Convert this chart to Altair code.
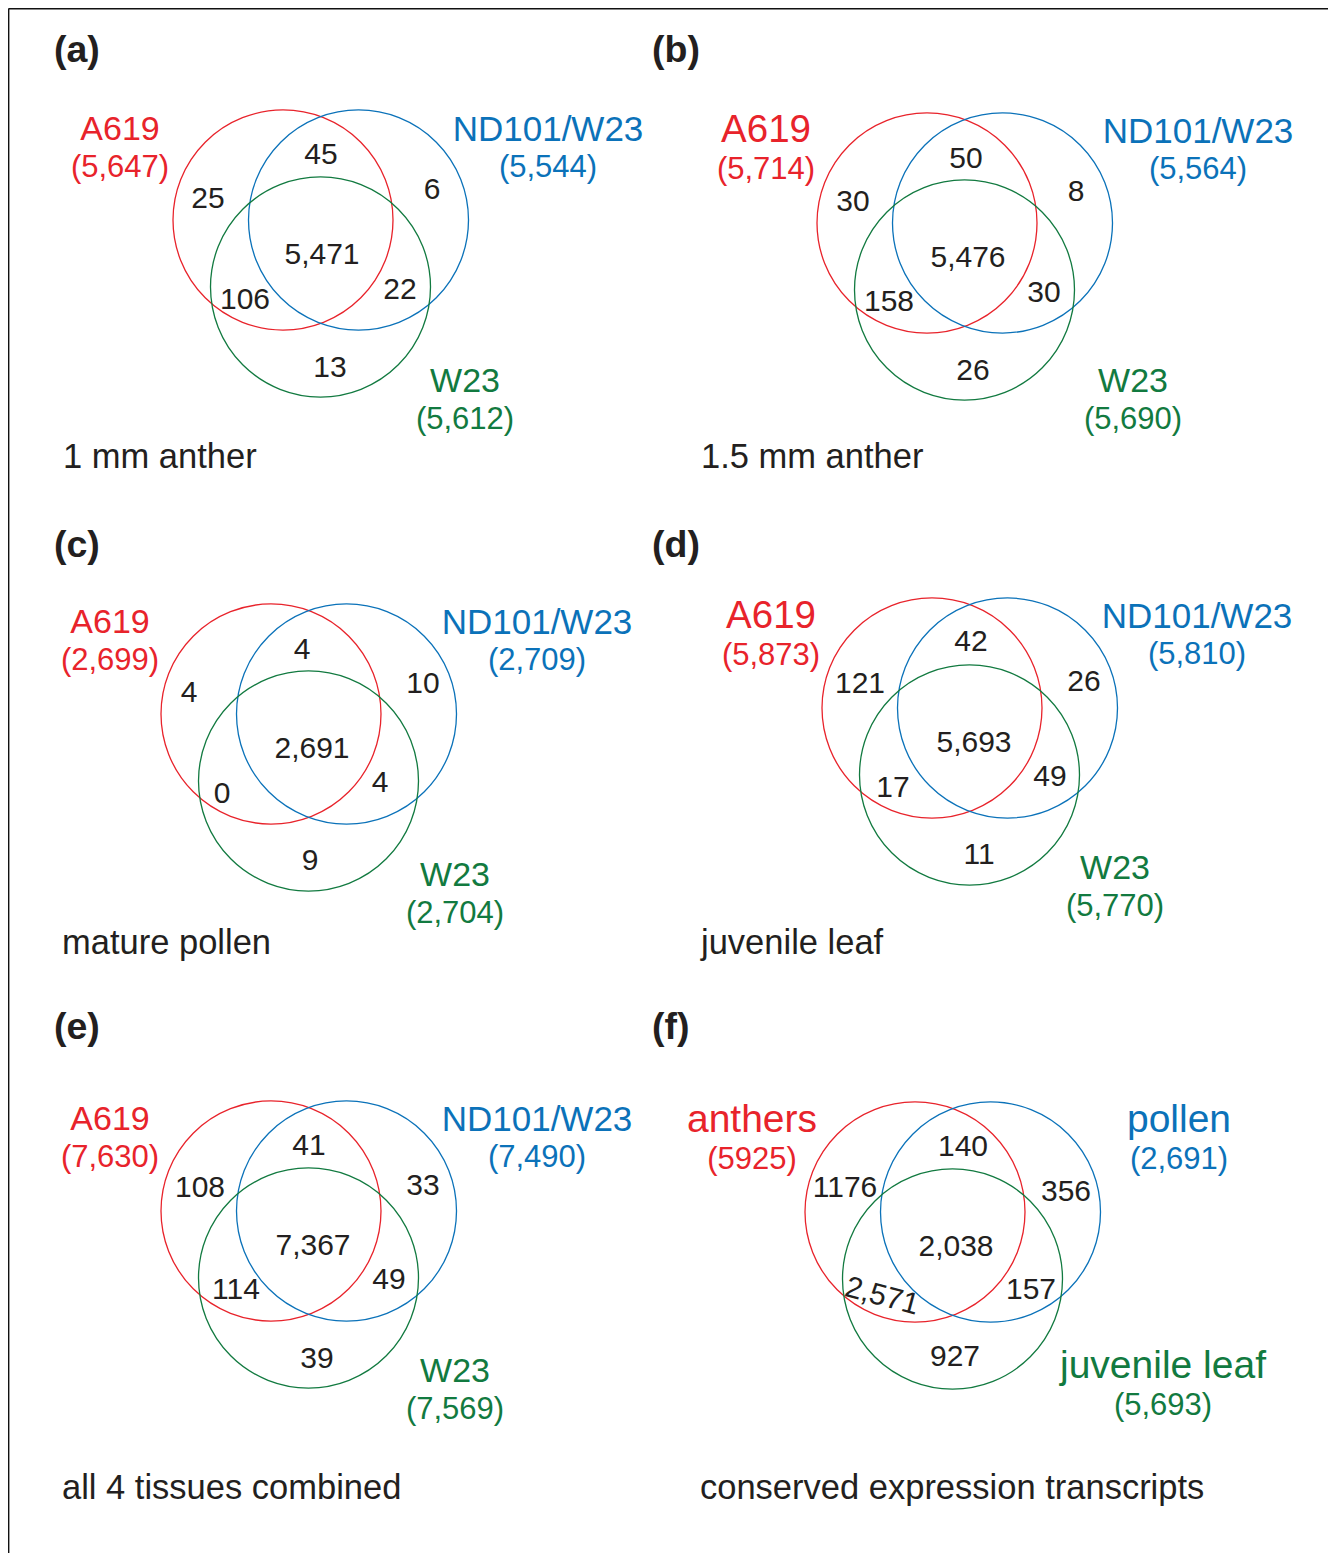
import altair as alt
import pandas as pd

# ---------------- data ----------------
panel_ids = ["a", "b", "c", "d", "e", "f"]
panel_tags = ["(a)", "(b)", "(c)", "(d)", "(e)", "(f)"]
captions = ["1 mm anther", "1.5 mm anther", "mature pollen", "juvenile leaf",
            "all 4 tissues combined", "conserved expression transcripts"]
set_names = [
    ["A619", "ND101/W23", "W23"],
    ["A619", "ND101/W23", "W23"],
    ["A619", "ND101/W23", "W23"],
    ["A619", "ND101/W23", "W23"],
    ["A619", "ND101/W23", "W23"],
    ["anthers", "pollen", "juvenile leaf"],
]
set_totals = [
    [5647, 5544, 5612],
    [5714, 5564, 5690],
    [2699, 2709, 2704],
    [5873, 5810, 5770],
    [7630, 7490, 7569],
    [5925, 2691, 5693],
]
# region order: first only, first+second, second only, all three,
#               first+third, second+third, third only
region_counts = [
    [25, 45, 6, 5471, 106, 22, 13],
    [30, 50, 8, 5476, 158, 30, 26],
    [4, 4, 10, 2691, 0, 4, 9],
    [121, 42, 26, 5693, 17, 49, 11],
    [108, 41, 33, 7367, 114, 49, 39],
    [1176, 140, 356, 2038, 2571, 157, 927],
]

# ---------------- layout / style ----------------
W, H = 1320, 1545
X0, Y0 = 8, 8
RED, BLUE, GREEN = "#e8232b", "#0b72b9", "#127a40"
TEXT = "#231f20"
FONT = "Liberation Sans"
set_colors = [RED, BLUE, GREEN]
TDY = 1.5  # small vertical text nudge

anchor = {"a": (283, 220), "b": (927, 223), "c": (271, 714),
          "d": (932, 708), "e": (271, 1211), "f": (915, 1212)}
circle_off = [(0, 0), (75.5, 0), (37.5, 67)]
R = 110
region_off = {
    "a": [(-75, -23), (38, -67), (149, -32), (39, 33), (-38, 78), (117, 68), (47, 146)],
    "b": [(-74, -23), (39, -66), (149, -33), (41, 33), (-38, 77), (117, 68), (46, 146)],
    "c": [(-82, -23), (31, -66), (152, -32), (41, 33), (-49, 78), (109, 67), (39, 145)],
    "d": [(-72, -26), (39, -68), (152, -28), (42, 33), (-39, 78), (118, 67), (47, 145)],
    "e": [(-71, -25), (38, -67), (152, -27), (42, 33), (-35, 77), (118, 67), (46, 146)],
    "f": [(-70, -26), (48, -67), (151, -22), (41, 33), (-33, 83), (116, 76), (40, 143)],
}
name_off = {
    "a": [(-163, -92), (265, -92), (182, 160)],
    "b": [(-161, -95), (271, -93), (206, 157)],
    "c": [(-161, -93), (266, -93), (184, 160)],
    "d": [(-161, -94), (265, -93), (183, 159)],
    "e": [(-161, -93), (266, -93), (184, 159)],
    "f": [(-163, -94), (264, -94), (248, 152)],
}
name_size = {"a": [34, 35, 34], "b": [38.5, 35, 34], "c": [34, 35, 34],
             "d": [38.5, 35, 34], "e": [34, 35, 34], "f": [39, 39, 39]}
no_comma = {("f", "total", 0), ("f", "region", 0)}
rotated = {("f", 4): 15}
caption_pos = {"a": (63, 458), "b": (701, 458), "c": (62, 944),
               "d": (701, 944), "e": (62, 1489), "f": (700, 1489)}
tag_pos = {"a": (54, 51), "b": (652, 51), "c": (54, 546),
           "d": (652, 546), "e": (54, 1028), "f": (652, 1028)}


def fmt(v, key):
    return str(v) if key in no_comma else f"{v:,}"


circles, regions, names, totals, caps, tags = [], [], [], [], [], []
for i, p in enumerate(panel_ids):
    ax, ay = anchor[p]
    for k in range(3):
        dx, dy = circle_off[k]
        circles.append({"x": ax + dx, "y": ay + dy, "col": set_colors[k],
                        "size": (2 * R) ** 2, "id": f"{p}{k}"})
        nx, ny = name_off[p][k]
        fs = name_size[p][k]
        names.append({"x": ax + nx, "y": ay + ny + TDY, "col": set_colors[k],
                      "fs": fs, "t": set_names[i][k]})
        totals.append({"x": ax + nx, "y": ay + ny + TDY + (40 if fs > 36 else 38),
                       "col": set_colors[k],
                       "t": "(" + fmt(set_totals[i][k], (p, "total", k)) + ")"})
    for j, c in enumerate(region_counts[i]):
        dx, dy = region_off[p][j]
        regions.append({"x": ax + dx, "y": ay + dy + TDY,
                        "t": fmt(c, (p, "region", j)),
                        "ang": rotated.get((p, j), 0)})
    cx, cy = caption_pos[p]
    caps.append({"x": cx, "y": cy, "t": captions[i]})
    tx, ty = tag_pos[p]
    tags.append({"x": tx, "y": ty, "t": panel_tags[i]})

xs = alt.Scale(domain=[X0, X0 + W], nice=False, zero=False)
ys = alt.Scale(domain=[Y0, Y0 + H], nice=False, zero=False, reverse=True)


def X(f="x"):
    return alt.X(f"{f}:Q", scale=xs, axis=None)


def Y(f="y"):
    return alt.Y(f"{f}:Q", scale=ys, axis=None)


circ = alt.Chart(pd.DataFrame(circles)).mark_point(
    shape="circle", filled=False, opacity=1, strokeWidth=1.3
).encode(x=X(), y=Y(), size=alt.Size("size:Q", scale=None, legend=None),
         color=alt.Color("col:N", scale=None, legend=None),
         detail="id:N")

reg = alt.Chart(pd.DataFrame(regions)).mark_text(
    font=FONT, fontSize=30, color=TEXT, align="center", baseline="middle"
).encode(x=X(), y=Y(), text="t:N", angle=alt.Angle("ang:Q", scale=None))

nm = alt.Chart(pd.DataFrame(names)).mark_text(
    font=FONT, align="center", baseline="middle"
).encode(x=X(), y=Y(), text="t:N",
         size=alt.Size("fs:Q", scale=None, legend=None),
         color=alt.Color("col:N", scale=None, legend=None))

tot = alt.Chart(pd.DataFrame(totals)).mark_text(
    font=FONT, fontSize=31, align="center", baseline="middle"
).encode(x=X(), y=Y(), text="t:N",
         color=alt.Color("col:N", scale=None, legend=None))

cap = alt.Chart(pd.DataFrame(caps)).mark_text(
    font=FONT, fontSize=34.5, color=TEXT, align="left", baseline="middle"
).encode(x=X(), y=Y(), text="t:N")

tag = alt.Chart(pd.DataFrame(tags)).mark_text(
    font=FONT, fontSize=37.5, fontWeight="bold", color=TEXT, align="left",
    baseline="middle"
).encode(x=X(), y=Y(), text="t:N")

frame_df = pd.DataFrame([
    {"x": 8.6, "x2": X0 + W, "y": 8.6, "y2": 8.6},
    {"x": 8.6, "x2": 8.6, "y": 8.6, "y2": Y0 + H},
])
frame = alt.Chart(frame_df).mark_rule(color="#111111", strokeWidth=1.6).encode(
    x=X(), x2="x2:Q", y=Y(), y2="y2:Q")

chart = alt.layer(frame, circ, reg, nm, tot, cap, tag).properties(
    width=W, height=H, padding=0, autosize=alt.AutoSizeParams(type="none")
).configure_view(stroke=None)

chart.save("out.html", embed_options={"renderer": "svg", "actions": False})
